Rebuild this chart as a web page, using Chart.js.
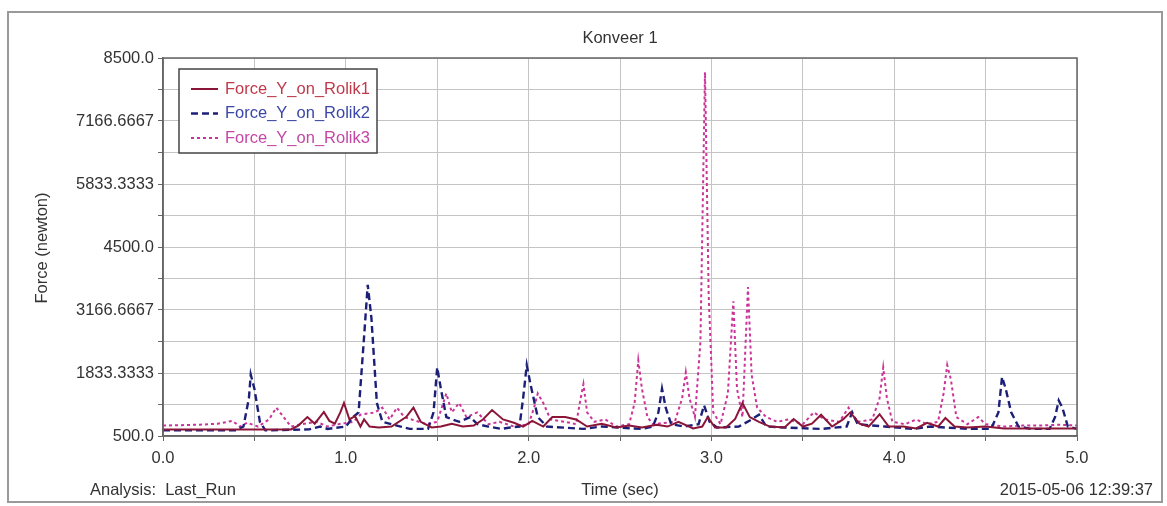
<!DOCTYPE html>
<html>
<head>
<meta charset="utf-8">
<script src="https://cdn.jsdelivr.net/npm/chart.js@4/dist/chart.umd.min.js"></script>
<style>
  html, body { margin: 0; padding: 0; background: #ffffff; }
  #wrap { width: 1167px; height: 506px; }
</style>
</head>
<body>
<div id="wrap"><canvas id="chart" width="1167" height="506"></canvas></div>
<script>
// 시리즈 이름
const seriesNames = ['Force_Y_on_Rolik1', 'Force_Y_on_Rolik2', 'Force_Y_on_Rolik3'];

// Rolik1 (실선)
const rolik1Time = [
  0, 0.70, 0.74, 0.79, 0.83, 0.88, 0.91, 0.94, 0.97, 0.99,
  1.02, 1.05, 1.08, 1.10, 1.13, 1.18, 1.25, 1.33, 1.37, 1.41,
  1.47, 1.52, 1.58, 1.64, 1.70, 1.75, 1.80, 1.86, 1.92, 1.97,
  2.02, 2.08, 2.13, 2.20, 2.26, 2.32, 2.40, 2.48, 2.55, 2.62,
  2.70, 2.76, 2.82, 2.90, 2.95, 2.98, 3.02, 3.08, 3.13, 3.17,
  3.21, 3.26, 3.32, 3.40, 3.45, 3.50, 3.55, 3.60, 3.66, 3.72,
  3.76, 3.81, 3.86, 3.92, 3.97, 4.05, 4.12, 4.18, 4.24, 4.28,
  4.33, 4.40, 4.50, 4.60, 4.70, 4.80, 4.90, 5.00
];
const rolik1Force = [
  640, 640, 720, 900, 760, 1010, 820, 760, 1000, 1200,
  850, 920, 700, 850, 700, 680, 700, 900, 1100, 800,
  680, 700, 760, 700, 720, 850, 1050, 850, 780, 700,
  820, 700, 900, 900, 850, 700, 760, 680, 720, 680,
  740, 700, 800, 660, 700, 900, 680, 680, 860, 1200,
  900, 800, 700, 680, 860, 700, 760, 950, 700, 850,
  1000, 760, 700, 960, 700, 700, 660, 780, 700, 880,
  700, 680, 700, 660, 660, 660, 660, 660
];

// Rolik2 (파선)
const rolik2Time = [
  0, 0.40, 0.44, 0.47, 0.48, 0.50, 0.53, 0.56, 0.80, 0.86,
  0.90, 1.00, 1.04, 1.07, 1.10, 1.12, 1.14, 1.17, 1.20, 1.30,
  1.35, 1.45, 1.48, 1.50, 1.52, 1.55, 1.62, 1.68, 1.72, 1.78,
  1.85, 1.90, 1.95, 1.97, 1.99, 2.01, 2.05, 2.10, 2.30, 2.40,
  2.62, 2.68, 2.71, 2.73, 2.75, 2.78, 2.85, 2.93, 2.96, 2.99,
  3.03, 3.15, 3.22, 3.26, 3.30, 3.40, 3.60, 3.74, 3.77, 3.80,
  3.95, 4.10, 4.20, 4.40, 4.53, 4.57, 4.59, 4.61, 4.64, 4.68,
  4.75, 4.85, 4.88, 4.90, 4.92, 4.95, 5.00
];
const rolik2Force = [
  620, 620, 700, 1300, 1800, 1500, 800, 620, 640, 700,
  650, 700, 900, 1000, 2600, 3700, 3000, 1200, 800, 700,
  650, 650, 1000, 1950, 1500, 900, 800, 900, 750, 700,
  650, 680, 700, 1300, 2000, 1600, 900, 700, 650, 700,
  650, 700, 1000, 1500, 1100, 750, 700, 750, 1150, 800,
  680, 700, 850, 950, 700, 680, 650, 700, 1000, 750,
  700, 650, 700, 650, 650, 1000, 1750, 1500, 1000, 700,
  650, 650, 900, 1250, 1100, 700, 650
];

// Rolik3 (점선)
const rolik3Time = [
  0, 0.10, 0.20, 0.30, 0.38, 0.42, 0.46, 0.52, 0.58, 0.62,
  0.66, 0.70, 0.76, 0.84, 0.90, 0.96, 1.04, 1.08, 1.16, 1.20,
  1.24, 1.28, 1.32, 1.40, 1.44, 1.50, 1.55, 1.58, 1.62, 1.66,
  1.72, 1.78, 1.84, 1.92, 2.00, 2.03, 2.05, 2.08, 2.12, 2.20,
  2.26, 2.28, 2.30, 2.32, 2.36, 2.42, 2.48, 2.55, 2.58, 2.60,
  2.62, 2.65, 2.68, 2.80, 2.84, 2.86, 2.88, 2.91, 2.94, 2.965,
  2.985, 3.01, 3.05, 3.09, 3.12, 3.14, 3.17, 3.20, 3.22, 3.25,
  3.30, 3.36, 3.42, 3.50, 3.56, 3.62, 3.70, 3.75, 3.80, 3.88,
  3.92, 3.94, 3.96, 3.99, 4.06, 4.12, 4.18, 4.24, 4.27, 4.29,
  4.31, 4.34, 4.40, 4.46, 4.50, 4.60, 4.70, 4.80, 4.90, 5.00
];
const rolik3Force = [
  720, 730, 740, 760, 820, 700, 780, 700, 850, 1100,
  900, 700, 750, 800, 700, 750, 800, 950, 1000, 1100,
  850, 1100, 900, 800, 750, 800, 1400, 1000, 1200, 900,
  1000, 750, 800, 700, 750, 1100, 1400, 1200, 850, 800,
  750, 1200, 1600, 1000, 800, 850, 700, 750, 1200, 2100,
  1500, 900, 750, 800, 1300, 1850, 1300, 900, 2500, 8200,
  3500, 1000, 750, 1400, 3350, 1500, 900, 3650, 1800, 1100,
  900, 800, 850, 750, 1000, 850, 800, 1100, 800, 850,
  1300, 1950, 1300, 800, 750, 850, 750, 800, 1400, 2000,
  1700, 900, 750, 900, 750, 700, 720, 720, 740, 720
];

// 축 눈금
const yMajorTicks = [500, 1833.3333, 3166.6667, 4500, 5833.3333, 7166.6667, 8500];
const yTickLabels = ['500.0', '1833.3333', '3166.6667', '4500.0', '5833.3333', '7166.6667', '8500.0'];
const xGridTicks = [0, 0.5, 1, 1.5, 2, 2.5, 3, 3.5, 4, 4.5, 5];
const xTickLabels = ['0.0', '', '1.0', '', '2.0', '', '3.0', '', '4.0', '', '5.0'];

const lineColors = ['#8a1538', '#1c1f78', '#cc3399'];
const legendTextColors = ['#c0394b', '#3b47a6', '#c446a6'];
const dashes = [[], [7, 4], [3, 3]];

const toPoints = (t, v) => t.map((x, i) => ({ x: x, y: v[i] }));

// 보조 격자 (주 눈금 사이 중간값)
const yGridTicks = [];
yMajorTicks.forEach((v, i) => {
  yGridTicks.push(v);
  if (i < yMajorTicks.length - 1) yGridTicks.push((v + yMajorTicks[i + 1]) / 2);
});

const FONT = '"Liberation Sans", Arial, sans-serif';
const FONT_SIZE = 16.5;

// 제목, 프레임, 범례, 하단 텍스트 그리기
const decorPlugin = {
  id: 'decor',
  beforeDraw(chart) {
    const ctx = chart.ctx;
    ctx.save();
    ctx.fillStyle = '#ffffff';
    ctx.fillRect(0, 0, chart.width, chart.height);
    ctx.strokeStyle = '#9a9a9a';
    ctx.lineWidth = 2;
    ctx.strokeRect(8, 12, 1154, 490);
    ctx.restore();
  },
  afterDraw(chart) {
    const ctx = chart.ctx;
    const a = chart.chartArea;
    ctx.save();
    // 플롯 테두리
    ctx.strokeStyle = '#666666';
    ctx.lineWidth = 1.5;
    ctx.strokeRect(a.left, a.top, a.right - a.left, a.bottom - a.top);

    ctx.fillStyle = '#333333';
    ctx.font = FONT_SIZE + 'px ' + FONT;
    ctx.textAlign = 'center';
    ctx.textBaseline = 'middle';
    ctx.fillText('Konveer 1', 620, 38);
    ctx.fillText('Time (sec)', 620, 490);
    ctx.textAlign = 'left';
    ctx.fillText('Analysis:  Last_Run', 90, 490);
    ctx.textAlign = 'right';
    ctx.fillText('2015-05-06 12:39:37', 1153, 490);

    ctx.save();
    ctx.translate(42, 248);
    ctx.rotate(-Math.PI / 2);
    ctx.textAlign = 'center';
    ctx.fillText('Force (newton)', 0, 0);
    ctx.restore();

    // 범례
    const bx = 179, by = 69, bw = 198, bh = 84;
    ctx.fillStyle = '#ffffff';
    ctx.fillRect(bx, by, bw, bh);
    ctx.strokeStyle = '#444444';
    ctx.lineWidth = 1.5;
    ctx.strokeRect(bx, by, bw, bh);
    ctx.font = FONT_SIZE + 'px ' + FONT;
    ctx.textAlign = 'left';
    seriesNames.forEach((name, i) => {
      const y = 89 + i * 24.5;
      ctx.strokeStyle = lineColors[i];
      ctx.lineWidth = i === 1 ? 2.5 : 2;
      ctx.setLineDash(dashes[i]);
      ctx.beginPath();
      ctx.moveTo(191, y);
      ctx.lineTo(218, y);
      ctx.stroke();
      ctx.setLineDash([]);
      ctx.fillStyle = legendTextColors[i];
      ctx.fillText(name, 225, y);
    });
    ctx.restore();
  }
};

const ctx = document.getElementById('chart').getContext('2d');
new Chart(ctx, {
  type: 'line',
  data: {
    datasets: [
      { label: seriesNames[0], data: toPoints(rolik1Time, rolik1Force) },
      { label: seriesNames[1], data: toPoints(rolik2Time, rolik2Force) },
      { label: seriesNames[2], data: toPoints(rolik3Time, rolik3Force) }
    ].map((d, i) => Object.assign(d, {
      borderColor: lineColors[i],
      borderWidth: i === 1 ? 2.4 : 2,
      borderDash: dashes[i],
      pointRadius: 0,
      tension: 0,
      fill: false
    }))
  },
  options: {
    responsive: false,
    devicePixelRatio: 1,
    animation: false,
    layout: { padding: { top: 58, right: 90, left: 0, bottom: 0 } },
    plugins: {
      legend: { display: false },
      title: { display: false },
      tooltip: { enabled: false }
    },
    scales: {
      x: {
        type: 'linear',
        min: 0,
        max: 5,
        afterBuildTicks: (axis) => { axis.ticks = xGridTicks.map(v => ({ value: v })); },
        afterFit: (scale) => { scale.height = 70; },
        ticks: {
          autoSkip: false,
          maxRotation: 0,
          padding: 8,
          color: '#333333',
          font: { family: FONT, size: FONT_SIZE },
          callback: (value, index) => xTickLabels[index]
        },
        grid: { color: '#c4c4c4', lineWidth: 1, tickLength: 5, tickColor: '#666666' },
        border: { color: '#666666', width: 1.5 }
      },
      y: {
        type: 'linear',
        min: 500,
        max: 8500,
        afterBuildTicks: (axis) => { axis.ticks = yGridTicks.map(v => ({ value: v })); },
        afterFit: (scale) => { scale.width = 163; },
        ticks: {
          autoSkip: false,
          padding: 4,
          color: '#333333',
          font: { family: FONT, size: FONT_SIZE },
          callback: (value, index) => (index % 2 === 0 ? yTickLabels[index / 2] : '')
        },
        grid: { color: '#c4c4c4', lineWidth: 1, tickLength: 5, tickColor: '#666666' },
        border: { color: '#666666', width: 1.5 }
      }
    }
  },
  plugins: [decorPlugin]
});
</script>
</body>
</html>
